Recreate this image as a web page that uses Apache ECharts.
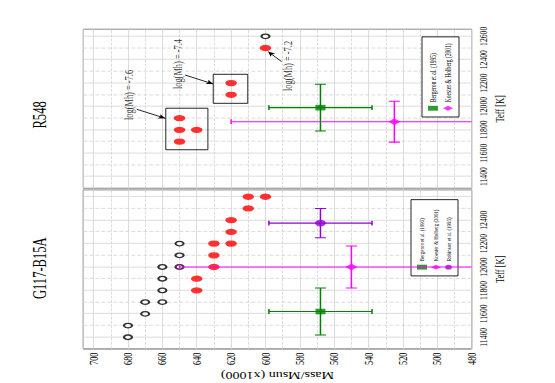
<!DOCTYPE html>
<html>
<head>
<meta charset="utf-8">
<script src="https://cdn.jsdelivr.net/npm/echarts@6.0.0/dist/echarts.min.js"></script>
<style>
  html, body { margin: 0; padding: 0; background: #fff; overflow: hidden; }
  #frame { position: relative; width: 555px; height: 383px; overflow: hidden; }
  /* the figure is drawn upright, then squeezed and turned a quarter to the left */
  #main { position: absolute; left: 0; top: 0; width: 547px; height: 555px;
          transform-origin: 0 0; transform: translate(0, 383px) rotate(-90deg) scaleX(0.7); }
</style>
</head>
<body>
<div id="frame"><div id="main"></div></div>
<script>
// ********
// * Data *
// ********

// Teff in K, mass in Msun x 1000

// G117-B15A: models (open) and best fits (filled)
const g117OpenTeff = [11400, 11500, 11600, 11700, 11700, 11800, 11900, 12000, 12000, 12100, 12200];
const g117OpenMass = [680, 680, 670, 670, 660, 660, 660, 660, 650, 650, 650];
const g117FitTeff = [11800, 11900, 12000, 12100, 12200, 12200, 12300, 12400, 12500, 12600, 12600];
const g117FitMass = [640, 640, 630, 630, 630, 620, 620, 620, 610, 610, 600];

// R548: models (open) and best fits (filled)
const r548OpenTeff = [12600];
const r548OpenMass = [600];
const r548FitTeff = [11700, 11800, 11800, 11900, 12100, 12200, 12500];
const r548FitMass = [650, 650, 640, 650, 620, 620, 600];

// Spectroscopic values: [Teff, mass, Teff error, mass error]
const sources = ["Bergeron et al. (1995)", "Koester & Holberg (2001)", "Robinson et al. (1995)"];
const g117Spec = [[11620, 568, 200, 30], [12000, 550, 180, 100], [12375, 568, 125, 30]];
const r548Spec = [[11990, 568, 200, 30], [11870, 525, 175, 95]];

// log(Mh) groups on the R548 panel
const boxTeff = [[11630, 11985], [12027, 12275]];
const boxMass = [[633.5, 658], [610.3, 630.4]];
const noteText = ["log(Mh) = -7.6", "log(Mh) = -7.4", "log(Mh) = -7.2"];
const noteTeff = [12098, 12363, 12346];
const noteMass = [679.4, 651.2, 586.9];
const arrowFrom = [[11976, 674.9], [12269, 646.8], [12383, 590.6]];
const arrowTo = [[11899, 658.3], [12192, 630.4], [12469, 598.4]];

// **********
// * Styles *
// **********

const FONT = "'Liberation Serif', 'Times New Roman', serif";
const colors = ["#008000", "#ff00ff", "#9400d3"];
const symbols = ["rect", "diamond", "circle"];
const symbolSizes = [[8, 10], [10, 12], [9.5, 11]];

const chart = echarts.init(document.getElementById("main"), null, { renderer: "svg", width: 547, height: 555 });

// *************
// * Functions *
// *************

function pairs(xs, ys) {
  return xs.map((x, i) => [x, ys[i]]);
}

function teffAxis(gridIndex, lastLabel) {
  return {
    type: "value",
    gridIndex: gridIndex,
    min: 11300,
    max: 12660,
    splitNumber: 7,
    minInterval: 200,
    maxInterval: 200,
    axisLine: { show: false },
    axisTick: { show: false },
    axisLabel: {
      fontSize: 11,
      margin: 6,
      color: "#000",
      fontFamily: FONT,
      formatter: (v) => (v % 200 === 0 && v <= lastLabel ? String(v) : ""),
    },
    splitLine: { lineStyle: { color: "#d6d6d6" } },
    minorTick: { show: false, splitNumber: 2 },
    minorSplitLine: { show: true, lineStyle: { color: "#d6d6d6", type: "dashed" } },
    name: "Teff [K]",
    nameLocation: "middle",
    nameGap: 16,
    nameTextStyle: { fontSize: 12, color: "#000", fontFamily: FONT },
  };
}

function massAxis(gridIndex, withLabels) {
  return {
    type: "value",
    gridIndex: gridIndex,
    min: 480,
    max: 706,
    interval: 20,
    axisLine: { show: false },
    axisTick: { show: false },
    axisLabel: {
      show: withLabels,
      fontSize: 12,
      margin: 5,
      color: "#000",
      fontFamily: FONT,
      formatter: (v) => (v % 20 === 0 && v <= 700 ? String(v) : ""),
    },
    splitLine: { lineStyle: { color: "#d6d6d6" } },
    minorTick: { show: false, splitNumber: 2 },
    minorSplitLine: { show: true, lineStyle: { color: "#d6d6d6", type: "dashed" } },
    name: withLabels ? "Mass/Msun (x1000)" : "",
    nameLocation: "middle",
    nameGap: 30,
    nameTextStyle: { fontSize: 14, color: "#000", fontFamily: FONT },
  };
}

// Cross shaped error bar with end caps
function renderErrorBar(params, api) {
  const t = api.value(0);
  const m = api.value(1);
  const dt = api.value(2);
  const dm = api.value(3);
  const left = api.coord([t - dt, m]);
  const right = api.coord([t + dt, m]);
  const low = api.coord([t, m - dm]);
  const high = api.coord([t, m + dm]);
  const style = { stroke: api.visual("color"), lineWidth: 1.5 };
  const seg = (x1, y1, x2, y2) => ({ type: "line", shape: { x1, y1, x2, y2 }, style: style });
  const ch = 5.5; // cap half height on Teff bar
  const cw = 3.5; // cap half width on mass bar
  return {
    type: "group",
    children: [
      seg(left[0], left[1], right[0], right[1]),
      seg(left[0], left[1] - ch, left[0], left[1] + ch),
      seg(right[0], right[1] - ch, right[0], right[1] + ch),
      seg(low[0], low[1], high[0], high[1]),
      seg(low[0] - cw, low[1], low[0] + cw, low[1]),
      seg(high[0] - cw, high[1], high[0] + cw, high[1]),
    ],
  };
}

const series = [];

function modelSeries(gridIndex, openPts, fitPts, extra) {
  series.push({
    name: "models",
    type: "scatter",
    xAxisIndex: gridIndex,
    yAxisIndex: gridIndex,
    data: openPts,
    symbol: "emptyCircle",
    symbolSize: [6.5, 8],
    itemStyle: { color: "#000", borderWidth: 1.2 },
    z: 3,
  });
  series.push(Object.assign({
    name: "fits",
    type: "scatter",
    xAxisIndex: gridIndex,
    yAxisIndex: gridIndex,
    data: fitPts,
    symbol: "circle",
    symbolSize: [9, 11.5],
    itemStyle: { color: "#ff0000" },
    z: 4,
  }, extra || {}));
}

function specSeries(gridIndex, spec) {
  spec.forEach((row, i) => {
    series.push({
      name: "err " + i,
      type: "custom",
      xAxisIndex: gridIndex,
      yAxisIndex: gridIndex,
      renderItem: renderErrorBar,
      encode: { x: 0, y: 1 },
      data: [row],
      clip: true,
      itemStyle: { color: colors[i] },
      z: 5,
    });
    series.push({
      name: sources[i],
      type: "scatter",
      xAxisIndex: gridIndex,
      yAxisIndex: gridIndex,
      data: [[row[0], row[1]]],
      symbol: symbols[i],
      symbolSize: symbolSizes[i],
      itemStyle: { color: colors[i] },
      z: 6,
    });
  });
}

// G117-B15A panel (left)
modelSeries(0, pairs(g117OpenTeff, g117OpenMass), pairs(g117FitTeff, g117FitMass));
specSeries(0, g117Spec);

// R548 panel (right), with the log(Mh) boxes and arrows
modelSeries(1, pairs(r548OpenTeff, r548OpenMass), pairs(r548FitTeff, r548FitMass), {
  markArea: {
    silent: true,
    itemStyle: { color: "rgba(0,0,0,0)", borderColor: "#000", borderWidth: 1 },
    data: boxTeff.map((t, i) => [{ coord: [t[0], boxMass[i][0]] }, { coord: [t[1], boxMass[i][1]] }]),
  },
  markLine: {
    silent: true,
    symbol: ["none", "arrow"],
    symbolSize: [5, 7],
    label: { show: false },
    lineStyle: { color: "#000", width: 1, type: "solid" },
    data: arrowFrom.map((p, i) => [{ coord: p }, { coord: arrowTo[i] }]),
  },
});
specSeries(1, r548Spec);

series.push({
  name: "notes",
  type: "scatter",
  xAxisIndex: 1,
  yAxisIndex: 1,
  symbolSize: 0,
  silent: true,
  data: noteText.map((s, i) => ({ name: s, value: [noteTeff[i], noteMass[i]] })),
  label: { show: true, position: "inside", formatter: "{b}", fontSize: 12, color: "#000", fontFamily: FONT },
  z: 7,
});

function legendFor(names, left, top, fontSize, gap, padding) {
  return {
    orient: "vertical",
    left: left,
    top: top,
    data: names.map((n, i) => ({ name: n, icon: symbols[i] })),
    itemWidth: 7,
    itemHeight: 10,
    itemGap: gap,
    padding: padding,
    borderColor: "#000",
    borderWidth: 1,
    borderRadius: 0,
    backgroundColor: "#fff",
    selectedMode: false,
    textStyle: { fontSize: fontSize, color: "#000", fontFamily: FONT },
  };
}

const option = {
  animation: false,
  backgroundColor: "#fff",
  textStyle: { fontFamily: FONT },
  graphic: [
    { type: "text", x: 164, y: 31, style: { text: "G117-B15A", fontSize: 18, fontFamily: FONT, fill: "#000", align: "center", verticalAlign: "top" } },
    { type: "text", x: 383, y: 31, style: { text: "R548", fontSize: 18, fontFamily: FONT, fill: "#000", align: "center", verticalAlign: "top" } },
  ],
  grid: [
    { left: 48.6, top: 83.3, width: 227.5, height: 388.4, show: true, borderColor: "#000", borderWidth: 1, backgroundColor: "transparent" },
    { left: 278.1, top: 83.3, width: 227.2, height: 388.4, show: true, borderColor: "#444", borderWidth: 1, backgroundColor: "transparent" },
  ],
  xAxis: [teffAxis(0, 12400), teffAxis(1, 12600)],
  yAxis: [massAxis(0, true), massAxis(1, false)],
  legend: [
    legendFor(sources, 153, 411, 7, 4, [6, 14, 6, 9]),
    legendFor(sources.slice(0, 2), 380, 422, 8, 5, [6, 9, 6, 9]),
  ],
  series: series,
};

chart.setOption(option);
</script>
</body>
</html>
